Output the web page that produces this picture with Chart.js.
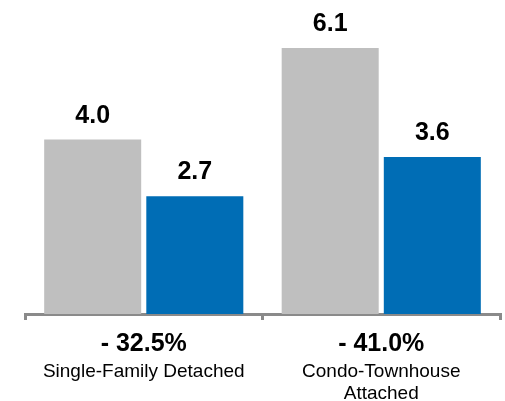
<!DOCTYPE html>
<html>
<head>
<meta charset="utf-8">
<script src="https://cdn.jsdelivr.net/npm/chart.js@4"></script>
<style>
  html, body { margin: 0; padding: 0; background: #fff; }
</style>
</head>
<body>
<canvas id="myChart" width="505" height="401"></canvas>
<script>
// chart data
const categories = [['Single-Family Detached'], ['Condo-Townhouse', 'Attached']];
const changeLabels = ['- 32.5%', '- 41.0%'];
const grayValues = [4.0, 6.1];
const blueValues = [2.7, 3.6];

const FONT = "'Liberation Sans', Arial, Helvetica, sans-serif";

// value labels above bars + the category text under the axis
const labelPlugin = {
    id: 'labelPlugin',
    afterDatasetsDraw(chart) {
        const ctx = chart.ctx;
        ctx.save();
        ctx.fillStyle = '#000';
        ctx.textAlign = 'center';
        ctx.textBaseline = 'alphabetic';
        ctx.font = 'bold 25px ' + FONT;
        chart.data.datasets.forEach((ds, i) => {
            chart.getDatasetMeta(i).data.forEach((bar, j) => {
                ctx.fillText(ds.data[j].toFixed(1), bar.x, bar.y - 17);
            });
        });
        const xScale = chart.scales.x;
        categories.forEach((lines, j) => {
            const x = xScale.getPixelForValue(j);
            ctx.font = 'bold 25px ' + FONT;
            ctx.fillText(changeLabels[j], x, 351);
            ctx.font = '19px ' + FONT;
            lines.forEach((line, k) => {
                ctx.fillText(line, x, 377 + k * 22);
            });
        });
        ctx.restore();
    }
};

let myChart = document.getElementById('myChart').getContext('2d');

let barChart = new Chart(myChart, {
    type: 'bar',
    data: {
        labels: categories,
        datasets: [{
            data: grayValues,
            backgroundColor: '#bfbfbf',
            barPercentage: 0.95,
            categoryPercentage: 0.86
        }, {
            data: blueValues,
            backgroundColor: '#006db5',
            barPercentage: 0.95,
            categoryPercentage: 0.86
        }]
    },
    options: {
        responsive: false,
        animation: false,
        layout: {
            padding: { left: 25, right: 5, top: 0, bottom: 81 }
        },
        plugins: {
            legend: { display: false },
            tooltip: { enabled: false }
        },
        scales: {
            x: {
                ticks: { display: false },
                grid: {
                    display: true,
                    drawOnChartArea: false,
                    drawTicks: true,
                    tickLength: 6,
                    color: '#8a8a8a',
                    lineWidth: 3
                },
                border: { display: true, color: '#8a8a8a', width: 3 }
            },
            y: {
                display: false,
                min: 0,
                max: 7.2
            }
        }
    },
    plugins: [labelPlugin]
});
</script>
</body>
</html>
